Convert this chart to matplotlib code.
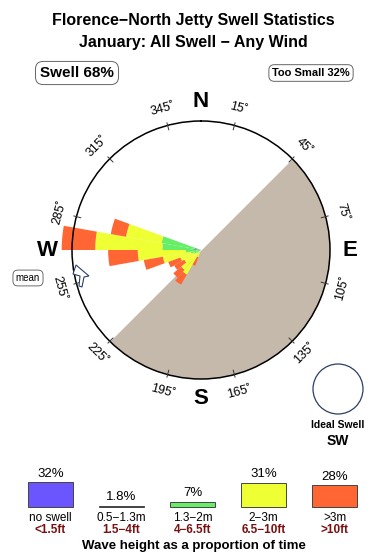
import numpy as np
import matplotlib
matplotlib.use('Agg')
from matplotlib import pyplot as plt
from matplotlib import patches

plt.rcParams['font.family'] = ['Liberation Sans', 'DejaVu Sans']

# swell rose: direction bins (deg, 10 deg wide) and stacked radius per height band
directions = [205, 215, 225, 235, 245, 255, 265, 275, 285]
band_small = [0.00, 0.00, 0.00, 0.01, 0.02, 0.02, 0.03, 0.06, 0.05]   # 0.5-1.3m
band_mid = [0.00, 0.00, 0.02, 0.03, 0.04, 0.06, 0.09, 0.24, 0.26]     # 1.3-2m
band_big = [0.06, 0.22, 0.18, 0.11, 0.11, 0.22, 0.37, 0.52, 0.28]     # 2-3m
band_huge = [0.07, 0.09, 0.08, 0.09, 0.10, 0.15, 0.23, 0.26, 0.12]    # >3m

# legend
legend_pct = [32, 1.8, 7, 31, 28]
legend_pct_labels = ['32%', '1.8%', '7%', '31%', '28%']
legend_names = ['no swell', '0.5\u22121.3m', '1.3\u22122m', '2\u22123m', '>3m']
legend_feet = ['<1.5ft', '1.5\u22124ft', '4\u22126.5ft', '6.5\u221210ft', '>10ft']
legend_colors = ['#6a55ff', '#5cb88a', '#66ee66', '#eeff33', '#ff6633']

shadow_sector = (45, 225)
tick_angles = list(range(15, 360, 30))
compass = {'N': 0, 'E': 90, 'S': 180, 'W': 270}

W, H = 390, 560
fig = plt.figure(figsize=(W / 100, H / 100), dpi=100)

def fx(x):
    return x / W

def fy(y):
    return 1 - y / H

# titles
fig.text(fx(193), fy(20), 'Florence\u2212North Jetty Swell Statistics', ha='center', va='center',
         fontsize=11.5, fontweight='bold')
fig.text(fx(193), fy(42), 'January: All Swell \u2212 Any Wind', ha='center', va='center',
         fontsize=11.5, fontweight='bold')
box = dict(boxstyle='round,pad=0.3,rounding_size=0.5', fc='white', ec='#666666', lw=0.7)
fig.text(fx(77), fy(73), 'Swell 68%', ha='center', va='center', fontsize=11, fontweight='bold', bbox=box)
fig.text(fx(311), fy(73), 'Too Small 32%', ha='center', va='center', fontsize=8, fontweight='bold', bbox=box)

# rose
cx, cy, R = 201, 250, 129
ax = fig.add_axes([fx(cx - R), fy(cy + R), 2 * R / W, 2 * R / H], projection='polar')
ax.set_theta_zero_location('N')
ax.set_theta_direction(-1)
ax.set_ylim(0, 1)
ax.set_xticks([])
ax.set_yticks([])
ax.grid(False)
ax.spines['polar'].set_linewidth(1.1)
ax.patch.set_alpha(0)

th = np.radians(np.linspace(shadow_sector[0], shadow_sector[1], 200))
ax.fill_between(th, 0, 1, color='#c5b9ab', lw=0, zorder=1)

theta = np.radians(directions)
bottom = np.zeros(len(directions))
for vals, col in zip([band_small, band_mid, band_big, band_huge], legend_colors[1:]):
    ax.bar(theta, vals, width=np.radians(10), bottom=bottom, color=col, edgecolor='none',
           align='center', zorder=2, clip_on=False)
    bottom += np.array(vals)

for a in tick_angles:
    t = np.radians(a)
    ax.plot([t, t], [0.965, 1.02], color='#333333', lw=0.7, clip_on=False, zorder=3)
    rot = (-a + 90) % 180 - 90
    ax.text(t, 1.135, f'{a}\u02da', rotation=rot, rotation_mode='anchor', ha='center', va='center',
            fontsize=9, clip_on=False)

for lab, a in compass.items():
    r = 1.19 if lab == 'W' else 1.155
    ax.text(np.radians(a), r, lab, ha='center', va='center', fontsize=16, fontweight='bold',
            clip_on=False)

# mean direction marker
arrow_px = [(76, 265), (89, 276), (84, 277), (82, 287), (79, 286), (80, 276), (73, 274)]
fig.patches.append(patches.Polygon([(fx(x), fy(y)) for x, y in arrow_px], closed=True,
                                   transform=fig.transFigure, fc='white', ec='#2b3f66', lw=0.8))
fig.text(fx(28), fy(278), 'mean', ha='center', va='center', fontsize=7,
         bbox=dict(boxstyle='round,pad=0.3,rounding_size=0.5', fc='white', ec='#555555', lw=0.6))

# ideal swell circle
fig.patches.append(patches.Ellipse((fx(338), fy(389)), 50 / W, 50 / H, transform=fig.transFigure,
                                   fc='white', ec='#2b3f66', lw=0.9))
fig.text(fx(338), fy(425), 'Ideal Swell', ha='center', va='center', fontsize=7.5, fontweight='bold')
fig.text(fx(338), fy(441), 'SW', ha='center', va='center', fontsize=10, fontweight='bold')

# legend bars
lax = fig.add_axes([fx(15), fy(507), 355 / W, 40 / H])
lax.set_xlim(-0.5, 4.5)
lax.set_ylim(0, 40 / 0.78)
lax.axis('off')
xs = np.arange(len(legend_pct))
lax.bar(xs, legend_pct, width=0.634, color=legend_colors, edgecolor='#444444', lw=0.7, clip_on=False)
for i in xs:
    lax.annotate(legend_pct_labels[i], (i, legend_pct[i]), xytext=(0, 6), textcoords='offset points',
                 ha='center', va='center', fontsize=9.5, annotation_clip=False)
    lax.annotate(legend_names[i], (i, 0), xytext=(0, -8), textcoords='offset points',
                 ha='center', va='center', fontsize=8.5, annotation_clip=False)
    lax.annotate(legend_feet[i], (i, 0), xytext=(0, -16.5), textcoords='offset points',
                 ha='center', va='center', fontsize=8.5, fontweight='bold', color='#7a1010',
                 annotation_clip=False)
fig.text(fx(194), fy(546), 'Wave height as a proportion of time', ha='center', va='center',
         fontsize=9.5, fontweight='bold')

fig.savefig('out.png', dpi=100)
